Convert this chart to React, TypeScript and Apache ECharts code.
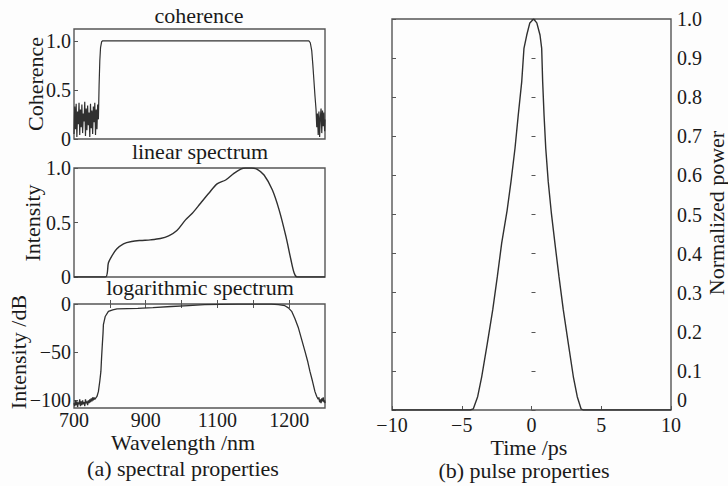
import React, { useEffect, useRef } from 'react';
import * as echarts from 'echarts';

// ---------- data ----------
// wavelength axis (nm, as drawn) vs. coherence
const coherence: [number, number][] = [
  [700, 0.05], [702, 0.33], [704, 0.1], [706, 0.36], [708, 0.02], [710, 0.28], [712, 0.15], [714, 0.37],
  [716, 0.04], [718, 0.3], [720, 0.12], [722, 0.35], [724, 0.06], [726, 0.26], [728, 0.18], [730, 0.38],
  [732, 0.03], [734, 0.31], [736, 0.09], [738, 0.34], [740, 0.14], [742, 0.27], [744, 0.02], [746, 0.36],
  [748, 0.11], [750, 0.29], [752, 0.05], [754, 0.33], [756, 0.17], [758, 0.37], [760, 0.04], [762, 0.3],
  [764, 0.1], [766, 0.35], [768, 0.2], [770, 0.55], [772, 0.8], [774, 0.93], [777, 0.99], [780, 1.0],
  [1000, 1.0], [1200, 1.0], [1355, 1.0], [1359, 0.98], [1363, 0.9], [1366, 0.76], [1369, 0.6], [1372, 0.44],
  [1375, 0.3], [1377, 0.12], [1379, 0.26], [1381, 0.04], [1383, 0.28], [1385, 0.02], [1387, 0.22],
  [1389, 0.31], [1391, 0.06], [1393, 0.29], [1395, 0.13], [1397, 0.27], [1399, 0.08], [1400, 0.2],
];

const linearSpectrum: [number, number][] = [
  [700, 0], [787, 0], [796, 0.13], [805, 0.19], [819, 0.256], [838, 0.305], [861, 0.326], [885, 0.335],
  [913, 0.341], [941, 0.353], [964, 0.378], [987, 0.427], [1011, 0.524], [1030, 0.585], [1053, 0.677],
  [1076, 0.768], [1099, 0.854], [1123, 0.89], [1146, 0.951], [1165, 0.99], [1178, 1.0], [1195, 1.0],
  [1210, 0.99], [1230, 0.936], [1253, 0.8], [1272, 0.616], [1291, 0.372], [1305, 0.158], [1314, 0.037],
  [1322, 0], [1400, 0],
];

const logSpectrum: [number, number][] = [
  [700, -103], [702, -106], [704, -100], [706, -105], [708, -101], [710, -107], [712, -102], [714, -104],
  [716, -99], [718, -106], [720, -101], [722, -105], [724, -100], [726, -104], [728, -102], [730, -106],
  [732, -99], [734, -103], [736, -101], [738, -105], [740, -100], [742, -103], [744, -99], [746, -102],
  [748, -98], [750, -101], [752, -97], [754, -100], [756, -97], [758, -99], [760, -98], [764, -96],
  [768, -91], [772, -80], [775, -70], [777, -55], [779, -42], [781, -30], [782, -21.5], [787, -13],
  [796, -7.7], [808, -6], [820, -5], [878, -4.5], [920, -3.8], [971, -2.6], [1020, -1.6], [1064, -0.7],
  [1110, -0.4], [1158, -0.2], [1250, -0.1], [1270, -0.6], [1288, -1.8], [1298, -4], [1307, -7.6],
  [1316, -15], [1326, -25], [1335, -37], [1344, -49], [1352, -60], [1358, -70], [1365, -80], [1372, -91],
  [1377, -96], [1381, -99], [1383, -97], [1385, -102], [1387, -99], [1389, -103], [1391, -98], [1393, -101],
  [1395, -97], [1397, -102], [1399, -100], [1400, -103],
];

// time (ps) vs normalized power
const pulse: [number, number][] = [
  [-10, 0], [-4.4, 0], [-4.17, 0.003], [-3.86, 0.034], [-3.57, 0.085], [-3.17, 0.17], [-2.78, 0.256],
  [-2.45, 0.341], [-2.14, 0.426], [-1.75, 0.51], [-1.47, 0.584], [-1.18, 0.67], [-0.95, 0.754],
  [-0.7, 0.84], [-0.54, 0.925], [-0.34, 0.959], [-0.12, 0.99], [0.15, 1.0], [0.38, 0.99], [0.61, 0.959],
  [0.73, 0.925], [0.8, 0.84], [0.9, 0.754], [1.02, 0.67], [1.2, 0.584], [1.42, 0.505], [1.68, 0.426],
  [1.97, 0.341], [2.28, 0.256], [2.64, 0.17], [3.0, 0.085], [3.28, 0.034], [3.55, 0.003], [3.7, 0], [10, 0],
];

// tick values and labels (as printed in the reference)
const wlTickValues = [800, 900, 1000, 1100, 1200, 1300];
const wlLabelValues = [700, 900, 1100, 1300];
const wlLabels = ['700', '900', '1100', '1200'];
const unitTicks = [0, 0.5, 1.0];
const unitLabels = ['0', '0.5', '1.0'];
const dbTicks = [-100, -50, 0];
const dbLabels = ['\u2212100', '\u221250', '0'];
const timeTicks = [-10, -5, 0, 5, 10];
const timeLabels = ['\u221210', '\u22125', '0', '5', '10'];
const powerTicks = [0, 0.1, 0.2, 0.3, 0.4, 0.5, 0.6, 0.7, 0.8, 0.9, 1.0];
const powerLabels = ['0', '0.1', '0.2', '0.3', '0.4', '0.5', '0.6', '0.7', '0.8', '0.9', '1.0'];

// ---------- styles ----------
const FONT = 'Liberation Serif';
const FRAME = '#555555';
const CURVE = '#303030';
const TEXT = '#1a1a1a';

const pick = (vals: number[], labels: string[]) => (v: number) => {
  const i = vals.findIndex((x) => Math.abs(x - v) < 1e-9);
  return i >= 0 ? labels[i] : '';
};

const labelStyle = { color: TEXT, fontSize: 20, fontFamily: FONT };

export default function App() {
  const ref = useRef<HTMLDivElement>(null);

  useEffect(() => {
    if (!ref.current) return;
    const chart = echarts.init(ref.current, undefined, { renderer: 'svg' });

    const gridBase = { show: true, borderColor: FRAME, borderWidth: 1.4, backgroundColor: 'transparent', containLabel: false };
    const hiddenLine = { show: false };

    const wlAxisHidden = (gridIndex: number) => ({
      type: 'value', gridIndex, min: 700, max: 1400,
      axisLine: hiddenLine, axisTick: { show: false }, axisLabel: { show: false }, splitLine: { show: false },
    });

    const titleText = (t: string, x: number, y: number, rot = 0) => ({
      type: 'text', x, y, rotation: rot, silent: true,
      style: {
        text: t, font: `22px "${FONT}"`, fill: TEXT,
        textAlign: 'center', textVerticalAlign: 'middle',
      },
    });

    const option: any = {
      animation: false,
      backgroundColor: '#fdfdfd',
      grid: [
        { ...gridBase, left: 74, top: 29, width: 251, height: 110 },
        { ...gridBase, left: 74, top: 168, width: 251, height: 109 },
        { ...gridBase, left: 74, top: 304, width: 251, height: 104 },
        { ...gridBase, left: 392, top: 19, width: 279, height: 391 },
      ],
      xAxis: [
        wlAxisHidden(0),
        wlAxisHidden(1),
        {
          type: 'value', gridIndex: 2, min: 700, max: 1400, position: 'bottom',
          axisLine: hiddenLine,
          axisTick: { show: true, inside: true, length: 4, customValues: wlTickValues, lineStyle: { color: FRAME } },
          axisLabel: { ...labelStyle, margin: 2, customValues: wlLabelValues, formatter: pick(wlLabelValues, wlLabels) },
          splitLine: { show: false },
        },
        {
          type: 'value', gridIndex: 2, min: 700, max: 1400, position: 'top',
          axisLine: hiddenLine,
          axisTick: { show: true, inside: true, length: 4, customValues: wlTickValues, lineStyle: { color: FRAME } },
          axisLabel: { show: false }, splitLine: { show: false },
        },
        {
          type: 'value', gridIndex: 3, min: -10, max: 10, interval: 5, position: 'bottom',
          axisLine: hiddenLine,
          axisTick: { show: true, inside: true, length: 4, lineStyle: { color: FRAME } },
          axisLabel: { ...labelStyle, margin: 5, formatter: pick(timeTicks, timeLabels) },
          splitLine: { show: false },
        },
      ],
      yAxis: [
        {
          type: 'value', gridIndex: 0, min: 0, max: 1.12,
          axisLine: hiddenLine,
          axisTick: { show: true, inside: true, length: 4, customValues: unitTicks, lineStyle: { color: FRAME } },
          axisLabel: { ...labelStyle, margin: 3, customValues: unitTicks, formatter: pick(unitTicks, unitLabels) },
          splitLine: { show: false },
        },
        {
          type: 'value', gridIndex: 1, min: 0, max: 1,
          axisLine: hiddenLine,
          axisTick: { show: true, inside: true, length: 4, customValues: unitTicks, lineStyle: { color: FRAME } },
          axisLabel: { ...labelStyle, margin: 3, customValues: unitTicks, formatter: pick(unitTicks, unitLabels) },
          splitLine: { show: false },
        },
        {
          type: 'value', gridIndex: 2, min: -108, max: 0,
          axisLine: hiddenLine,
          axisTick: { show: true, inside: true, length: 4, customValues: dbTicks, lineStyle: { color: FRAME } },
          axisLabel: { ...labelStyle, margin: 3, customValues: dbTicks, formatter: pick(dbTicks, dbLabels) },
          splitLine: { show: false },
        },
        {
          type: 'value', gridIndex: 3, min: 0, max: 1, interval: 0.1, position: 'right',
          axisLine: hiddenLine,
          axisTick: { show: true, inside: false, length: 4, lineStyle: { color: FRAME } },
          axisLabel: {
            ...labelStyle, margin: 6, verticalAlignMinLabel: 'bottom',
            formatter: pick(powerTicks, powerLabels),
          },
          splitLine: { show: false },
        },
        {
          type: 'value', gridIndex: 3, min: 0, max: 1, interval: 0.1, position: 'left',
          axisLine: hiddenLine,
          axisTick: { show: true, inside: true, length: 4, lineStyle: { color: FRAME } },
          axisLabel: { show: false }, splitLine: { show: false },
        },
      ],
      series: [
        { type: 'line', xAxisIndex: 0, yAxisIndex: 0, data: coherence, symbol: 'none', lineStyle: { color: CURVE, width: 1.2 } },
        { type: 'line', xAxisIndex: 1, yAxisIndex: 1, data: linearSpectrum, symbol: 'none', smooth: 0.3, lineStyle: { color: CURVE, width: 1.4 } },
        { type: 'line', xAxisIndex: 2, yAxisIndex: 2, data: logSpectrum, symbol: 'none', lineStyle: { color: CURVE, width: 1.3 } },
        { type: 'line', xAxisIndex: 4, yAxisIndex: 3, data: pulse, symbol: 'none', lineStyle: { color: CURVE, width: 1.4 } },
      ],
      graphic: [
        titleText('coherence', 199, 15),
        titleText('linear spectrum', 200, 151),
        titleText('logarithmic spectrum', 200, 287),
        titleText('Wavelength /nm', 183, 442),
        titleText('(a) spectral properties', 183, 468),
        titleText('Time /ps', 529, 447),
        titleText('(b) pulse properties', 524, 470),
        titleText('Coherence', 35, 84, Math.PI / 2),
        titleText('Intensity', 32, 223, Math.PI / 2),
        titleText('Intensity /dB', 18, 352, Math.PI / 2),
        titleText('Normalized power', 716, 213, Math.PI / 2),
      ],
    };

    chart.setOption(option);
    return () => chart.dispose();
  }, []);

  return <div ref={ref} style={{ position: 'fixed', left: 0, top: 0, width: 728, height: 486 }} />;
}
